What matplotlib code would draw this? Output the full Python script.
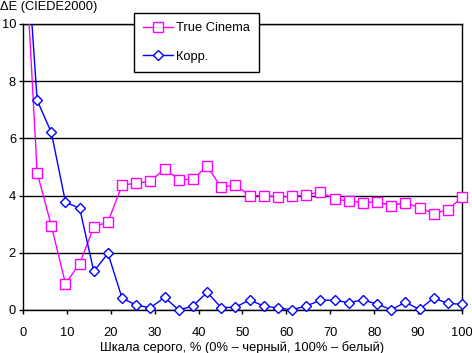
import numpy as np
import matplotlib.pyplot as plt
from matplotlib.lines import Line2D

plt.rcParams['font.family'] = ['Liberation Sans', 'DejaVu Sans']

# grey scale steps, 32 points 0..100 %
x = [i * 100 / 31 for i in range(32)]

true_cinema = [14.0, 4.8, 2.95, 0.92, 1.62, 2.9, 3.08, 4.37, 4.43, 4.5, 4.94,
               4.56, 4.57, 5.03, 4.29, 4.37, 4.0, 4.0, 3.96, 3.97, 4.02, 4.13,
               3.88, 3.81, 3.75, 3.79, 3.65, 3.75, 3.58, 3.37, 3.51, 3.94]
korr = [14.6, 7.33, 6.21, 3.77, 3.56, 1.35, 1.98, 0.41, 0.17, 0.08, 0.44,
        0.0, 0.14, 0.62, 0.08, 0.1, 0.35, 0.14, 0.07, 0.01, 0.14, 0.34,
        0.34, 0.26, 0.35, 0.21, 0.01, 0.27, 0.02, 0.42, 0.23, 0.2]

labels = ['True Cinema', 'Корр.']
colors = ['#FF00FF', '#0000FF']
markers = ['s', 'D']
sizes = [7, 5.5]

fig = plt.figure(figsize=(4.72, 3.53), dpi=100)
ax = fig.add_axes([23 / 472, 43 / 353, 439 / 472, 286 / 353])

handles = []
for ys, lab, c, m, s in zip([true_cinema, korr], labels, colors, markers, sizes):
    ax.plot(x, ys, color=c, lw=1, zorder=3)
    ax.plot(x[1:], ys[1:], ls='none', marker=m, ms=s, mfc='white', mec=c,
            mew=1, clip_on=False, zorder=4)
    handles.append(Line2D([], [], color=c, lw=1, marker=m, ms=s,
                          mfc='white', mec=c, mew=1))

ax.set_xlim(0, 100)
ax.set_ylim(0, 10)
ax.set_xticks(range(0, 101, 10))
ax.set_yticks(range(0, 11, 2))
ax.grid(axis='y', color='black', lw=1)
ax.set_axisbelow(True)
for sp in ax.spines.values():
    sp.set_color('black')
    sp.set_linewidth(1)
ax.tick_params(direction='out', length=3, width=1, labelsize=9.3, colors='black')
ax.tick_params(axis='x', pad=9)
ax.tick_params(axis='y', pad=2)
ax.set_xlabel('Шкала серого, % (0% – черный, 100% – белый)', fontsize=9.3,
              labelpad=2)
fig.text(0.0, 1 - 7 / 353, 'ΔE (CIEDE2000)', fontsize=9.3, va='center', ha='left')

leg = ax.legend(handles, labels, loc='upper left',
                bbox_to_anchor=((134 - 23) / 439, (310 - 13) / 286),
                fontsize=9.3, fancybox=False, framealpha=1, edgecolor='black',
                labelspacing=1.3, handlelength=2.3, borderpad=0.7,
                handletextpad=0.25, borderaxespad=0)
leg.get_frame().set_linewidth(1)
leg.set_zorder(5)

fig.savefig('out.png', dpi=100)
